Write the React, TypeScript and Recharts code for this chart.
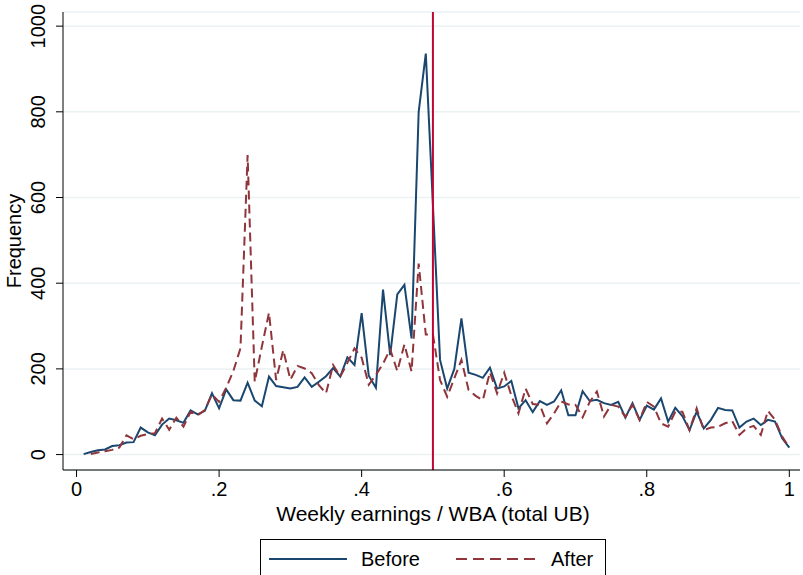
import React from 'react';
import { LineChart, Line, XAxis, YAxis, CartesianGrid, ReferenceLine, Legend } from 'recharts';

// Bin midpoints: weekly earnings as a share of the weekly benefit amount
const bins = [
    0.01, 0.02, 0.03, 0.04, 0.05, 0.06, 0.07, 0.08, 0.09, 0.1,
    0.11, 0.12, 0.13, 0.14, 0.15, 0.16, 0.17, 0.18, 0.19, 0.2,
    0.21, 0.22, 0.23, 0.24, 0.25, 0.26, 0.27, 0.28, 0.29, 0.3,
    0.31, 0.32, 0.33, 0.34, 0.35, 0.36, 0.37, 0.38, 0.39, 0.4,
    0.41, 0.42, 0.43, 0.44, 0.45, 0.46, 0.47, 0.48, 0.49, 0.5,
    0.51, 0.52, 0.53, 0.54, 0.55, 0.56, 0.57, 0.58, 0.59, 0.6,
    0.61, 0.62, 0.63, 0.64, 0.65, 0.66, 0.67, 0.68, 0.69, 0.7,
    0.71, 0.72, 0.73, 0.74, 0.75, 0.76, 0.77, 0.78, 0.79, 0.8,
    0.81, 0.82, 0.83, 0.84, 0.85, 0.86, 0.87, 0.88, 0.89, 0.9,
    0.91, 0.92, 0.93, 0.94, 0.95, 0.96, 0.97, 0.98, 0.99, 1.0,
];

const before = [
    1, 6, 10, 12, 20, 22, 28, 29, 63, 52,
    45, 70, 84, 80, 74, 103, 94, 102, 143, 108,
    152, 127, 126, 168, 126, 113, 182, 160, 157, 154,
    158, 180, 158, 170, 183, 202, 182, 227, 209, 330,
    184, 156, 385, 232, 374, 396, 271, 800, 936, 582,
    221, 154, 200, 318, 191, 186, 179, 203, 154, 159,
    172, 108, 127, 99, 125, 116, 124, 150, 92, 92,
    148, 125, 128, 120, 116, 123, 86, 120, 81, 114,
    105, 131, 77, 109, 90, 57, 100, 61, 81, 109,
    104, 103, 63, 77, 84, 69, 81, 77, 38, 16,
];

const after = [
    null, 1, 5, 8, 11, 16, 45, 36, 44, 48,
    50, 84, 58, 86, 65, 100, 92, 104, 140, 123,
    156, 195, 248, 699, 170, 252, 331, 174, 244, 175,
    207, 201, 190, 162, 143, 209, 182, 214, 248, 226,
    163, 186, 212, 246, 195, 257, 194, 446, 280, 280,
    174, 135, 178, 221, 151, 137, 127, 192, 143, 191,
    138, 96, 154, 118, 116, 73, 96, 124, 117, 116,
    87, 123, 147, 89, 116, 112, 88, 116, 81, 123,
    112, 73, 65, 100, 100, 57, 108, 57, 63, 65,
    73, 78, 46, 61, 67, 46, 102, 81, 42, 16,
];

const xTicks = [0, 0.2, 0.4, 0.6, 0.8, 1];
const yTicks = [0, 200, 400, 600, 800, 1000];
const threshold = 0.5;

const data = bins.map((x, i) => ({ x, before: before[i], after: after[i] }));

const FONT = '"Liberation Sans", Arial, sans-serif';
const BLUE = '#1a476f';
const MAROON = '#90353b';

const fmtX = (v: number) => (v === 0 || v === 1 ? String(v) : String(v).replace(/^0/, ''));

const XTick = ({ x, y, payload }: any) => (
    <text x={x} y={y + 17} textAnchor="middle" fontSize={20} fontFamily={FONT} fill="#000">
        {fmtX(payload.value)}
    </text>
);

const YTick = ({ x, y, payload }: any) => (
    <text
        x={x - 9}
        y={y}
        transform={`rotate(-90 ${x - 9} ${y})`}
        textAnchor="middle"
        fontSize={20}
        fontFamily={FONT}
        fill="#000"
    >
        {payload.value}
    </text>
);

const LegendBox = () => (
    <div
        style={{
            boxSizing: 'border-box',
            width: 346,
            height: 48,
            border: '1px solid #000',
            background: '#fff',
            display: 'flex',
            alignItems: 'center',
            paddingLeft: 8,
            fontFamily: FONT,
            fontSize: 20,
            color: '#000',
            paddingBottom: 8,
        }}
    >
        <svg width={78} height={4}>
            <line x1={0} y1={2} x2={78} y2={2} stroke={BLUE} strokeWidth={2} />
        </svg>
        <span style={{ marginLeft: 14, width: 62 }}>Before</span>
        <svg width={81} height={4} style={{ marginLeft: 33 }}>
            <line x1={0} y1={2} x2={81} y2={2} stroke={MAROON} strokeWidth={2} strokeDasharray="11 6" />
        </svg>
        <span style={{ marginLeft: 14 }}>After</span>
    </div>
);

export default function App() {
    return (
        <div style={{ position: 'absolute', left: 0, top: 0, width: 803, height: 575, background: '#fff' }}>
            <LineChart width={803} height={575} data={data} margin={{ top: 12, right: 3, left: 0, bottom: 0 }}>
                <CartesianGrid vertical={false} stroke="#eaf2f3" strokeWidth={1.5} />
                <XAxis
                    dataKey="x"
                    type="number"
                    domain={[-0.019, 1.015]}
                    ticks={xTicks}
                    interval={0}
                    height={105}
                    tickSize={7}
                    stroke="#000"
                    tick={<XTick />}
                    label={{
                        content: ({ viewBox }: any) => (
                            <text
                                x={433}
                                y={viewBox.y + 51}
                                textAnchor="middle"
                                fontSize={21}
                                fontFamily={FONT}
                                fill="#000"
                            >
                                Weekly earnings / WBA (total UB)
                            </text>
                        ),
                    }}
                />
                <YAxis
                    type="number"
                    domain={[-36, 1033]}
                    ticks={yTicks}
                    interval={0}
                    width={63}
                    tickSize={7}
                    stroke="#000"
                    tick={<YTick />}
                    label={{
                        content: ({ viewBox }: any) => {
                            const cx = 21;
                            const cy = viewBox.y + viewBox.height / 2;
                            return (
                                <text
                                    x={cx}
                                    y={cy}
                                    transform={`rotate(-90 ${cx} ${cy})`}
                                    textAnchor="middle"
                                    fontSize={20}
                                    fontFamily={FONT}
                                    fill="#000"
                                >
                                    Frequency
                                </text>
                            );
                        },
                    }}
                />
                <Line
                    type="linear"
                    dataKey="before"
                    name="Before"
                    stroke={BLUE}
                    strokeWidth={2}
                    dot={false}
                    activeDot={false}
                    isAnimationActive={false}
                />
                <Line
                    type="linear"
                    dataKey="after"
                    name="After"
                    stroke={MAROON}
                    strokeWidth={2}
                    strokeDasharray="9 5"
                    dot={false}
                    activeDot={false}
                    isAnimationActive={false}
                />
                <ReferenceLine x={threshold} stroke="#c10534" strokeWidth={2} />
                <Legend
                    layout="horizontal"
                    verticalAlign="middle"
                    align="center"
                    content={<LegendBox />}
                    wrapperStyle={{ position: 'absolute', left: 260, top: 539, width: 346, height: 48 }}
                />
            </LineChart>
        </div>
    );
}
